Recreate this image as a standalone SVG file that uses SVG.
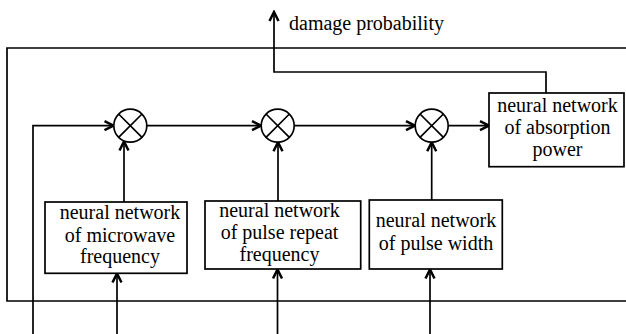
<svg xmlns="http://www.w3.org/2000/svg" width="626" height="334" viewBox="0 0 626 334">
<defs>
<style>
.ln{fill:none;stroke:#000;stroke-width:1.7}
.bx{fill:#fff;stroke:#000;stroke-width:1.7}
.t{font-family:"Liberation Serif","Times New Roman",serif;font-size:20px;fill:#000;text-anchor:middle}
</style>
<marker id="ah" markerUnits="userSpaceOnUse" viewBox="0 0 12 12" refX="10" refY="6" markerWidth="12" markerHeight="12" orient="auto">
<path d="M1,1.5 L10,6 L1,10.5" fill="none" stroke="#000" stroke-width="2.5" stroke-linejoin="miter"/>
</marker>
</defs>
<rect width="626" height="334" fill="#fff"/>
<g id="connectors">
<path class="ln" d="M626,48 H7 V301 H626"/>
<path class="ln" d="M546,93 V72 H274 V12" marker-end="url(#ah)"/>
<path class="ln" d="M33,334 V125.7 H113.5" marker-end="url(#ah)"/>
<path class="ln" d="M146.8,125.7 H261" marker-end="url(#ah)"/>
<path class="ln" d="M294.2,125.7 H415" marker-end="url(#ah)"/>
<path class="ln" d="M448.2,125.7 H489" marker-end="url(#ah)"/>
<path class="ln" d="M124,202 V141.5" marker-end="url(#ah)"/>
<path class="ln" d="M278,201 V142.3" marker-end="url(#ah)"/>
<path class="ln" d="M431.7,200 V142.3" marker-end="url(#ah)"/>
<path class="ln" d="M117,334 V273.5" marker-end="url(#ah)"/>
<path class="ln" d="M277.5,334 V269.5" marker-end="url(#ah)"/>
<path class="ln" d="M430,334 V269.5" marker-end="url(#ah)"/>
</g>
<g id="label-damage">
<text class="t" x="289" y="30" style="text-anchor:start">damage probability</text>
</g>
<g id="mult1">
<circle class="bx" cx="130.3" cy="125.7" r="16.5"/>
<path class="ln" d="M118.6,114 L142,137.4 M142,114 L118.6,137.4"/>
</g>
<g id="mult2">
<circle class="bx" cx="277.7" cy="125.7" r="16.5"/>
<path class="ln" d="M266,114 L289.4,137.4 M289.4,114 L266,137.4"/>
</g>
<g id="mult3">
<circle class="bx" cx="431.7" cy="125.7" r="16.5"/>
<path class="ln" d="M420,114 L443.4,137.4 M443.4,114 L420,137.4"/>
</g>
<g id="nn-microwave">
<rect class="bx" x="45" y="202" width="142" height="71.3"/>
<text class="t" x="120" y="219">neural network</text>
<text class="t" x="120" y="241.5">of microwave</text>
<text class="t" x="120" y="263">frequency</text>
</g>
<g id="nn-pulse-repeat">
<rect class="bx" x="205" y="201" width="155.7" height="68"/>
<text class="t" x="279.5" y="216.7">neural network</text>
<text class="t" x="279.5" y="239">of pulse repeat</text>
<text class="t" x="279.5" y="261">frequency</text>
</g>
<g id="nn-pulse-width">
<rect class="bx" x="369.3" y="200" width="133" height="69"/>
<text class="t" x="436" y="226.7">neural network</text>
<text class="t" x="436" y="250">of pulse width</text>
</g>
<g id="nn-absorption">
<rect class="bx" x="489" y="93" width="135" height="73.7"/>
<text class="t" x="557.5" y="112">neural network</text>
<text class="t" x="557.5" y="134">of absorption</text>
<text class="t" x="557.5" y="156">power</text>
</g>
</svg>
